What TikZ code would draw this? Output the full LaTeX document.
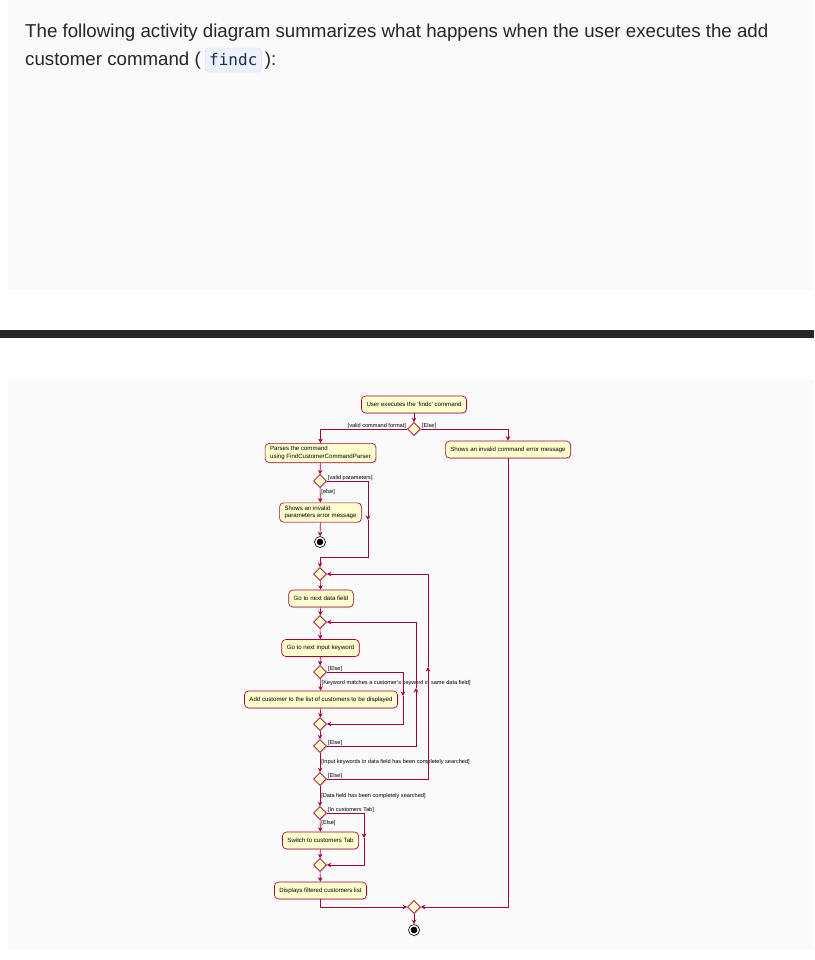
\documentclass[tikz,border=0pt]{standalone}
\usepackage{fontspec}
\setmainfont{Liberation Sans}
\setmonofont{DejaVu Sans Mono}
\usetikzlibrary{arrows.meta,calc,positioning,shapes.geometric,shadows}

\definecolor{umlred}{HTML}{A80036}
\definecolor{umlfill}{HTML}{FEFECE}
\definecolor{pagegray}{HTML}{FAFAFA}
\definecolor{barblack}{HTML}{262626}
\definecolor{codebg}{HTML}{EEF0FA}
\definecolor{codeline}{HTML}{DADDF0}
\definecolor{codeink}{HTML}{1E2A5C}

\begin{document}
\begin{tikzpicture}[
  x=1pt,y=-1pt,
  >={Stealth[length=4.5pt,width=4.5pt]},
  headtext/.style={font=\fontsize{18.7}{22}\selectfont,text=black!85,inner sep=0pt},
  codebox/.style={font=\ttfamily\fontsize{16}{20}\selectfont,text=codeink,fill=codebg,
    draw=codeline,rounded corners=3pt,inner xsep=4pt,minimum height=24pt},
  act/.style={draw=umlred,fill=umlfill,rounded corners=4pt,align=left,line width=0.6pt,
    font=\fontsize{6.1}{7.6}\selectfont,inner xsep=5pt,inner ysep=3pt,minimum height=17pt,
    drop shadow={shadow xshift=1pt,shadow yshift=-1pt,opacity=0.25}},
  dec/.style={diamond,draw=umlred,fill=umlfill,line width=0.6pt,minimum size=13pt,inner sep=0pt,
    drop shadow={shadow xshift=1pt,shadow yshift=-1pt,opacity=0.25}},
  stopnode/.style={circle,draw=black,fill=white,line width=0.6pt,minimum size=11pt,inner sep=0pt,
    drop shadow={shadow xshift=1pt,shadow yshift=-1pt,opacity=0.25},
    path picture={\fill[black] (path picture bounding box.center) circle (3.3pt);}},
  flow/.style={->,umlred,line width=0.6pt},
  guard/.style={font=\fontsize{5.6}{6.5}\selectfont,inner sep=1pt,text=black},
  side/.style={guard,anchor=west,yshift=2.7pt},
  sideleft/.style={guard,anchor=east,yshift=2.7pt}
]
  \useasboundingbox (0,0) rectangle (814,960);

  % page background
  \fill[pagegray] (8,0) rectangle (814,290);
  \fill[barblack] (0,330) rectangle (814,338);
  \fill[pagegray] (8,380) rectangle (814,950);

  % text above the diagram
  \node[headtext,anchor=base west] (line1) at (25,38)
    {The following activity diagram summarizes what happens when the user executes the add};
  \node[headtext,anchor=base west] (line2) at (25,66) {customer command (};
  \node[codebox,anchor=base west] (code) at ($(line2.base east)+(4,0)$) {findc};
  \node[headtext,anchor=base west] (line2b) at ($(code.base east)+(3,0)$) {):};

  % activities
  \node[act] (cmd) at (414,404.5) {User executes the `findc' command};
  \node[dec] (d1) at (414,429) {};
  \node[act] (parse) at (320.5,453) {Parses the command\\using FindCustomerCommandParser};
  \node[act] (badcmd) at (508,449.5) {Shows an invalid command error message};
  \node[dec] (d2) at (320,481) {};
  \node[act] (badpar) at (320.5,512.5) {Shows an invalid\\parameters error message};
  \node[stopnode] (stop1) at (320,542) {};
  \node[dec] (m1) at (320,574) {};
  \node[act] (nextfield) at (321,598.5) {Go to next data field};
  \node[dec] (m2) at (320,622) {};
  \node[act] (nextkey) at (320.5,648) {Go to next input keyword};
  \node[dec] (d5) at (320,672) {};
  \node[act] (addcust) at (321,699.5) {Add customer to the list of customers to be displayed};
  \node[dec] (m3) at (320,724) {};
  \node[dec] (d7) at (320,746) {};
  \node[dec] (d8) at (320,779) {};
  \node[dec] (d9) at (320,813) {};
  \node[act] (switch) at (320.5,840.5) {Switch to customers Tab};
  \node[dec] (m4) at (320,865) {};
  \node[act] (showlist) at (320.5,890.5) {Displays filtered customers list};
  \node[dec] (m5) at (414,907) {};
  \node[stopnode] (stop2) at (414,930) {};

  % bends where the side branches carry their arrow
  \coordinate (c2) at (368,520);
  \coordinate (c2b) at (368,557);
  \coordinate (c5) at (403,696);
  \coordinate (c7) at (416,688);
  \coordinate (c8) at (428,667);
  \coordinate (c9) at (364,838);

  % straight flow
  \foreach \from/\to in {cmd/d1,parse/d2,badpar/stop1,m1/nextfield,nextfield/m2,
      m2/nextkey,nextkey/d5,addcust/m3,m3/d7,switch/m4,m4/showlist,m5/stop2}
    \draw[flow] (\from) -- (\to);

  \draw[flow] (d1.west) node[sideleft] {[valid command format]} -| (parse.north);
  \draw[flow] (d1.east) node[side] {[Else]} -| (badcmd.north);

  \draw[flow] (d2) -- node[guard,anchor=west,pos=0.3] {[else]} (badpar);
  \draw[flow] (d2.east) node[side] {[valid parameters]} -| (c2);
  \draw[flow] (c2) -- (c2b) -| (m1.north);

  \draw[flow] (d5) -- node[guard,anchor=west,pos=0.35]
    {[Keyword matches a customer's keyword in same data field]} (addcust);
  \draw[flow] (d5.east) node[side] {[Else]} -| (c5);
  \draw[flow] (c5) |- (m3.east);

  \draw[flow] (d7) -- node[guard,anchor=west,pos=0.5]
    {[Input keywords in data field has been completely searched]} (d8);
  \draw[flow] (d7.east) node[side] {[Else]} -| (c7);
  \draw[flow] (c7) |- (m2.east);

  \draw[flow] (d8) -- node[guard,anchor=west,pos=0.5]
    {[Data field has been completely searched]} (d9);
  \draw[flow] (d8.east) node[side] {[Else]} -| (c8);
  \draw[flow] (c8) |- (m1.east);

  \draw[flow] (d9) -- node[guard,anchor=west,pos=0.3] {[Else]} (switch);
  \draw[flow] (d9.east) node[side] {[In customers Tab]} -| (c9);
  \draw[flow] (c9) |- (m4.east);

  \draw[flow] (showlist.south) |- (m5.west);
  \draw[flow] (badcmd.south) |- (m5.east);
\end{tikzpicture}
\end{document}
